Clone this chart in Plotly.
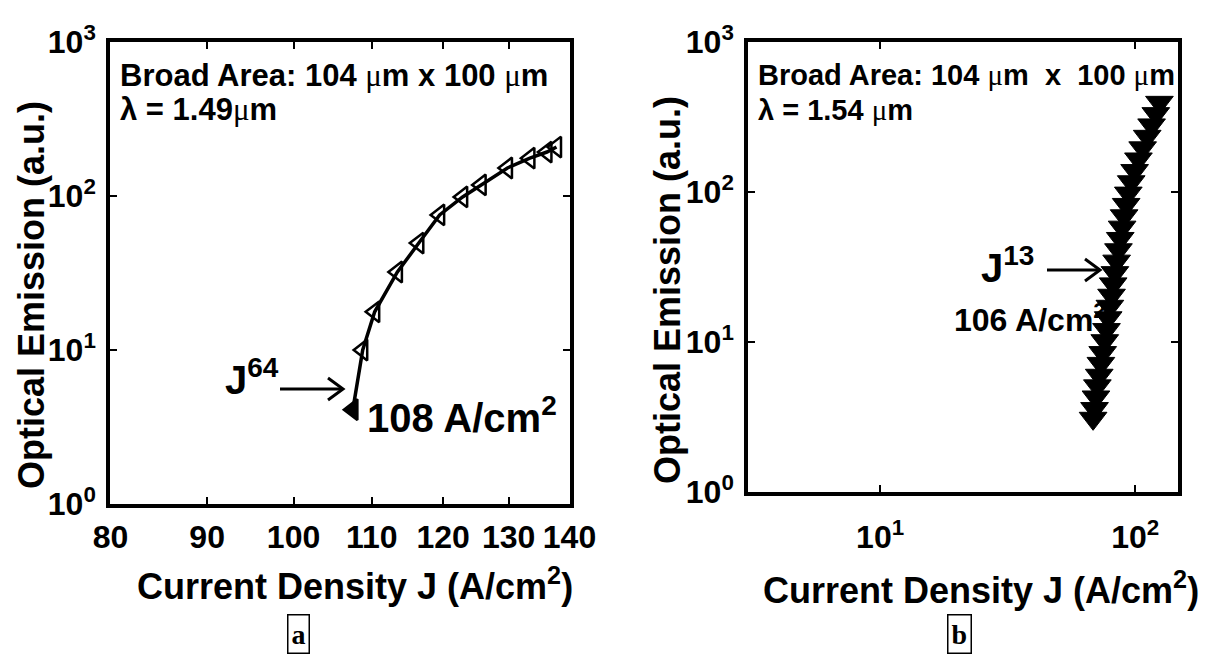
import plotly.graph_objects as go

# ---------------- data ----------------
# panel a : current density (A/cm^2) vs optical emission (a.u.)
J_a = [107.5, 108.8, 110.4, 113.5, 116.5, 119.5, 122.9, 125.7, 129.8, 133.4, 136.2, 137.8]
P_a = [4.1, 10.0, 17.7, 32.1, 49.5, 75.3, 98.6, 118, 152, 176, 193, 208]

# panel b
J_b = [68.4, 69.3, 70.2, 71.1, 72.3, 73.4, 74.6, 76.0, 77.2, 78.4, 79.6, 80.8, 82.0, 83.3, 84.6,
       86.0, 87.4, 88.9, 90.5, 92.2, 94.0, 96.5, 99.5, 103, 107, 111.5, 116, 120.5, 124.5]
P_b = [3.1, 3.6, 4.3, 5.1, 6.0, 7.2, 8.5, 10.2, 12.1, 14.5, 17.3, 20.5, 24.4, 29.0, 34.6,
       41.2, 49.0, 58.3, 69.4, 82.6, 98.3, 117, 139, 166, 197, 235, 280, 333, 396]

y_ticks = [1, 10, 100, 1000]
y_ticktext = ["10<sup>0</sup>", "10<sup>1</sup>", "10<sup>2</sup>", "10<sup>3</sup>"]
xa_ticks = [80, 90, 100, 110, 120, 130, 140]
xa_ticktext = [str(v) for v in xa_ticks]
xb_ticks = [10, 100]
xb_ticktext = ["10<sup>1</sup>", "10<sup>2</sup>"]

W, H = 1212, 658
FONT = "Liberation Sans Narrow, Arial Narrow, Liberation Sans, Arial, sans-serif"


def px(x):
    return x / W


def py(y):
    return 1 - y / H


fig = go.Figure()

fig.add_trace(go.Scatter(
    x=J_a, y=P_a, mode="lines+markers", xaxis="x", yaxis="y",
    line=dict(color="black", width=3.5),
    marker=dict(symbol=["triangle-left"] + ["triangle-left-open"] * (len(J_a) - 1),
                size=18, color="black", line=dict(color="black", width=2.5)),
    showlegend=False, cliponaxis=False))

fig.add_trace(go.Scatter(
    x=J_b, y=P_b, mode="markers", xaxis="x2", yaxis="y2",
    marker=dict(symbol="triangle-down", size=24, color="black",
                line=dict(color="black", width=1)),
    showlegend=False, cliponaxis=False))

axis_common = dict(showline=True, linecolor="black", linewidth=3.5, mirror="ticks",
                   ticks="inside", ticklen=7, tickwidth=2, tickcolor="black",
                   showgrid=False, zeroline=False, automargin=False,
                   tickfont=dict(family=FONT, size=32, color="black", weight="bold"))

fig.update_layout(
    width=W, height=H,
    margin=dict(l=0, r=0, t=0, b=0, autoexpand=False),
    paper_bgcolor="white", plot_bgcolor="white",
    xaxis=dict(domain=[px(110), px(570)], type="log", range=[1.9028, 2.1464],
               tickvals=xa_ticks, ticktext=xa_ticktext, anchor="y", ticklabelstandoff=2,
               **axis_common),
    yaxis=dict(domain=[py(504), py(42)], type="log", range=[0, 3],
               tickvals=y_ticks, ticktext=y_ticktext, anchor="x", ticklabelstandoff=4,
               **axis_common),
    xaxis2=dict(domain=[px(748), px(1178)], type="log", range=[0.482, 2.168],
                tickvals=xb_ticks, ticktext=xb_ticktext, anchor="y2", ticklabelstandoff=14,
                **axis_common),
    yaxis2=dict(domain=[py(492), py(42)], type="log", range=[0, 3],
                tickvals=y_ticks, ticktext=y_ticktext, anchor="x2", ticklabelstandoff=4,
                **axis_common),
)

MU = "<span style='font-family:Liberation Serif;font-weight:normal'>μ</span>"
anns = [
    (118, 75, f"Broad Area: 104 {MU}m x 100 {MU}m", 31, "left", 0),
    (118, 110, f"λ = 1.49{MU}m", 31, "left", 0),
    (756, 75, f"Broad Area: 104 {MU}m&nbsp; x &nbsp;100 {MU}m", 29, "left", 0),
    (756, 110, f"λ = 1.54 {MU}m", 29, "left", 0),
    (252, 377, "J<sup>64</sup>", 40, "center", 0),
    (365, 415, "108 A/cm<sup>2</sup>", 40, "left", 0),
    (1007, 265, "J<sup>13</sup>", 40, "center", 0),
    (1030, 318, "106 A/cm<sup>2</sup>", 32, "center", 0),
    (355, 584, "Current Density J (A/cm<sup>2</sup>)", 36, "center", 0),
    (981, 588, "Current Density J (A/cm<sup>2</sup>)", 36, "center", 0),
    (31, 295, "Optical Emission (a.u.)", 36, "center", -90),
    (668, 290, "Optical Emission (a.u.)", 36, "center", -90),
]
for x, y, t, s, xa, ang in anns:
    fig.add_annotation(x=px(x), y=py(y), xref="paper", yref="paper", text=t, showarrow=False,
                       xanchor=xa, yanchor="middle", textangle=ang,
                       font=dict(family=FONT, size=s, color="black", weight="bold"))

for x, y, t in [(298, 634, "a"), (959, 634, "b")]:
    fig.add_annotation(x=px(x), y=py(y), xref="paper", yref="paper", text=t, showarrow=False,
                       xanchor="center", yanchor="middle", bordercolor="black", borderwidth=1.5,
                       borderpad=3,
                       font=dict(family="Liberation Serif", size=28, color="black", weight="bold"))

# arrows (open chevron heads)
for x0, x1, y in [(280, 343, 389), (1047, 1100, 270)]:
    fig.add_shape(type="line", xref="paper", yref="paper", x0=px(x0), x1=px(x1), y0=py(y), y1=py(y),
                  line=dict(color="black", width=3))
    fig.add_shape(type="path", xref="paper", yref="paper",
                  path=f"M {px(x1-15)} {py(y-11)} L {px(x1)} {py(y)} L {px(x1-15)} {py(y+11)}",
                  line=dict(color="black", width=3))

fig.write_html("out.html")
